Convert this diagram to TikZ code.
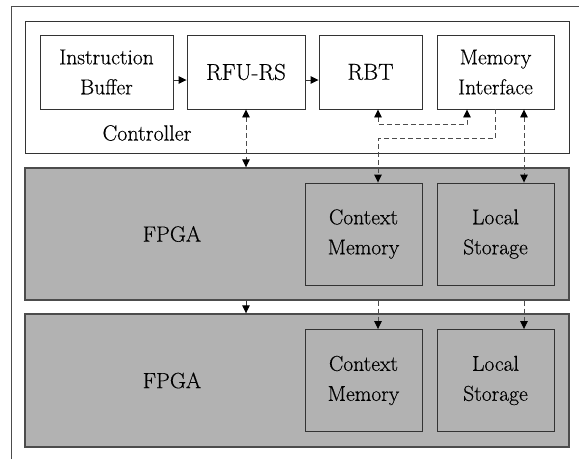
\documentclass[tikz,border=0pt]{standalone}
\usepackage{fontspec}
\newfontfamily\figfont{Latin Modern Roman}[FakeBold=0.4]
\usetikzlibrary{arrows.meta}
\tikzset{
  box/.style={draw=black!80, line width=0.9pt, fill=white, inner sep=0pt, align=center, font=\figfont\fontsize{21.5}{30}\selectfont},
  bigbox/.style={box, font=\figfont\fontsize{23}{30}\selectfont},
  membox/.style={box, fill=black!30, minimum width=117pt, minimum height=102pt},
  fpgabox/.style={draw=black!70, line width=1.4pt, fill=black!30, inner sep=0pt, minimum width=544pt},
  txt/.style={font=\figfont\fontsize{22}{30}\selectfont},
  frame/.style={draw=black!70, line width=1pt},
  dline/.style={draw=black!70, line width=0.9pt, dash pattern=on 5pt off 3pt},
  sline/.style={draw=black!80, line width=0.9pt}
}
\begin{document}
\begin{tikzpicture}[x=1pt, y=-1pt, >={Triangle[length=8pt,width=7.5pt,color=black]}]
\useasboundingbox (0,0) rectangle (579,459);
\draw[frame] (11,459) -- (11,6) -- (579,6);
\node[box, minimum width=544pt, minimum height=132pt] (ctrl) at (297,87) {};
\node[fpgabox, minimum height=132pt] (fpga1) at (297,234) {};
\node[fpgabox, minimum height=133pt] (fpga2) at (297,380.5) {};
\node[box, minimum width=133pt, minimum height=74pt] (ib) at (106.5,72) {Instruction\\Buffer};
\node[bigbox, minimum width=118pt, minimum height=74pt] (rfu) at (246,72) {RFU-RS};
\node[bigbox, minimum width=103pt, minimum height=74pt] (rbt) at (370.5,72) {RBT};
\node[box, minimum width=117pt, minimum height=74pt] (mi) at (495.5,72) {Memory\\Interface};
\node[membox] (cm1) at (363.5,234) {Context\\Memory};
\node[membox] (ls1) at (495.5,234) {Local\\Storage};
\node[membox] (cm2) at (363.5,380.5) {Context\\Memory};
\node[membox] (ls2) at (495.5,380.5) {Local\\Storage};
\node[txt] (ctrllbl) at (147,133) {Controller};
\node[txt] (fpgalbl1) at (172,234) {FPGA};
\node[txt] (fpgalbl2) at (172,380.5) {FPGA};
\draw[sline,->] ([yshift=-8pt]ib.east) -- ([yshift=-8pt]rfu.west);
\draw[sline,->] ([yshift=-8pt]rfu.east) -- ([yshift=-8pt]rbt.west);
\draw[dline,<->] (rfu.south) -- (rfu.south |- fpga1.north);
\draw[dline,<->] ([xshift=7.5pt]rbt.south) -- ++(0,15) -| ([xshift=-28.5pt]mi.south);
\draw[dline,->] (mi.south) -- ++(0,29) -| ([xshift=14.5pt]cm1.north);
\draw[dline,<->] ([xshift=28.5pt]mi.south) -- ([xshift=28.5pt]ls1.north);
\draw[sline,->] (rfu.south |- fpga1.south) -- (rfu.south |- fpga2.north);
\draw[dline,->] ([xshift=14.5pt]cm2.north |- fpga1.south) -- ([xshift=14.5pt]cm2.north);
\draw[dline,->] ([xshift=28.5pt]ls2.north |- fpga1.south) -- ([xshift=28.5pt]ls2.north);
\end{tikzpicture}
\end{document}
